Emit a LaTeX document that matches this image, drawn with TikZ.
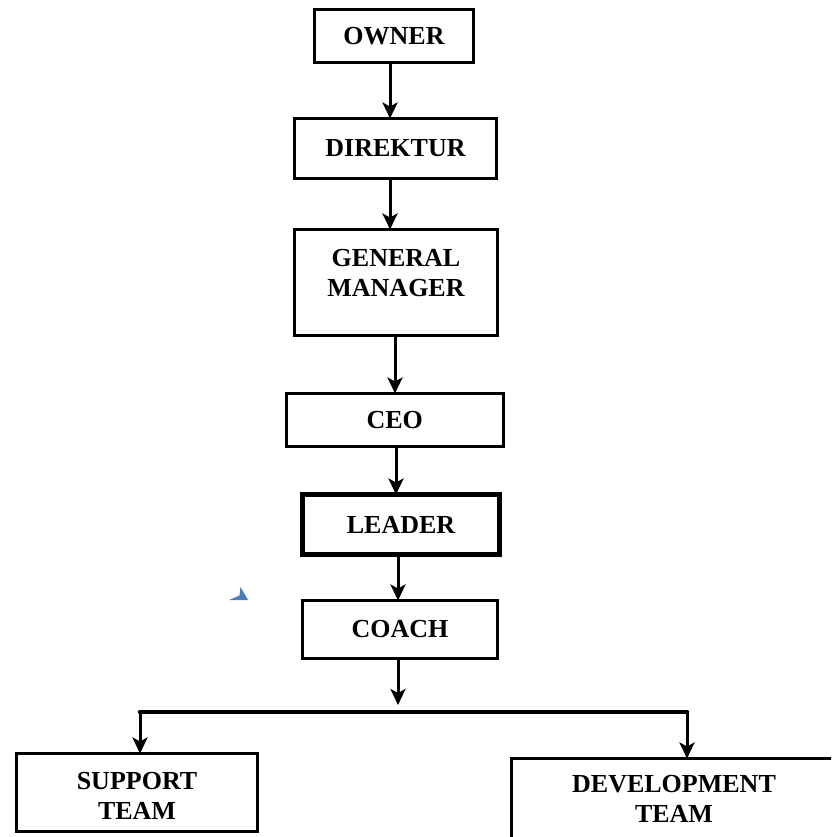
\documentclass[tikz,border=0pt]{standalone}
\usepackage{fontspec}
\setmainfont{Liberation Serif}
\usetikzlibrary{arrows.meta}
\begin{document}
\begin{tikzpicture}[x=1pt,y=-1pt,
  box/.style={draw=black,line width=3.2pt,rectangle,inner sep=0pt,outer sep=0pt,
    fill=white,font=\fontsize{26}{30}\selectfont\bfseries,align=center},
  thickbox/.style={box,line width=5pt},
  lbl/.style={font=\fontsize{26}{30}\selectfont\bfseries,align=center,inner sep=0pt},
  arr/.style={draw=black,line width=3pt,-{Stealth[length=16pt,width=15pt,inset=4pt]}},
  bar/.style={draw=black,line width=4.5pt,line cap=round}]
\useasboundingbox (0,0) rectangle (831,837);
\clip (0,0) rectangle (831,837);

% chain of positions
\node[box,minimum width=159pt,minimum height=53pt] (owner) at (394,36) {OWNER};
\node[box,minimum width=202pt,minimum height=60pt] (direktur) at (395.5,148.5) {DIREKTUR};
\node[box,minimum width=203pt,minimum height=106pt] (gm) at (396,282.5) {};
\node[lbl] (gmtext) at (396,273) {GENERAL\\MANAGER};
\node[box,minimum width=217pt,minimum height=53pt] (ceo) at (394.75,420) {CEO};
\node[thickbox,minimum width=197pt,minimum height=60pt] (leader) at (401,524.5) {LEADER};
\node[box,minimum width=195pt,minimum height=58pt] (coach) at (400,629.5) {COACH};

% teams
\node[box,minimum width=241pt,minimum height=78pt] (support) at (137,792.5) {};
\node[lbl] (supporttext) at (137,796) {SUPPORT\\TEAM};
\node[box,minimum width=327pt,minimum height=85pt] (dev) at (675,801) {};
\node[lbl] (devtext) at (674,799) {DEVELOPMENT\\TEAM};

% connectors
\draw[arr] (owner.south -| 390,0) -- (direktur.north -| 390,0);
\draw[arr] (direktur.south -| 390,0) -- (gm.north -| 390,0);
\draw[arr] (gm.south -| 395,0) -- (ceo.north -| 395,0);
\draw[arr] (ceo.south -| 396,0) -- (leader.north -| 396,0);
\draw[arr] (leader.south -| 398,0) -- (coach.north -| 398,0);

\coordinate (split) at (398,705);
\coordinate (hl) at (140,712);
\coordinate (hr) at (687,712);
\draw[arr] (coach.south -| split) -- (split);
\draw[bar] (hl) -- (hr);
\draw[arr] (hl) -- (support.north -| hl);
\draw[arr] (hr) -- (dev.north -| hr);

% small blue marker
\fill[fill={rgb,255:red,74;green,126;blue,187}]
  (229,600) -- (239.5,595.5) -- (240.5,587) -- (248,600) -- cycle;
\end{tikzpicture}
\end{document}
